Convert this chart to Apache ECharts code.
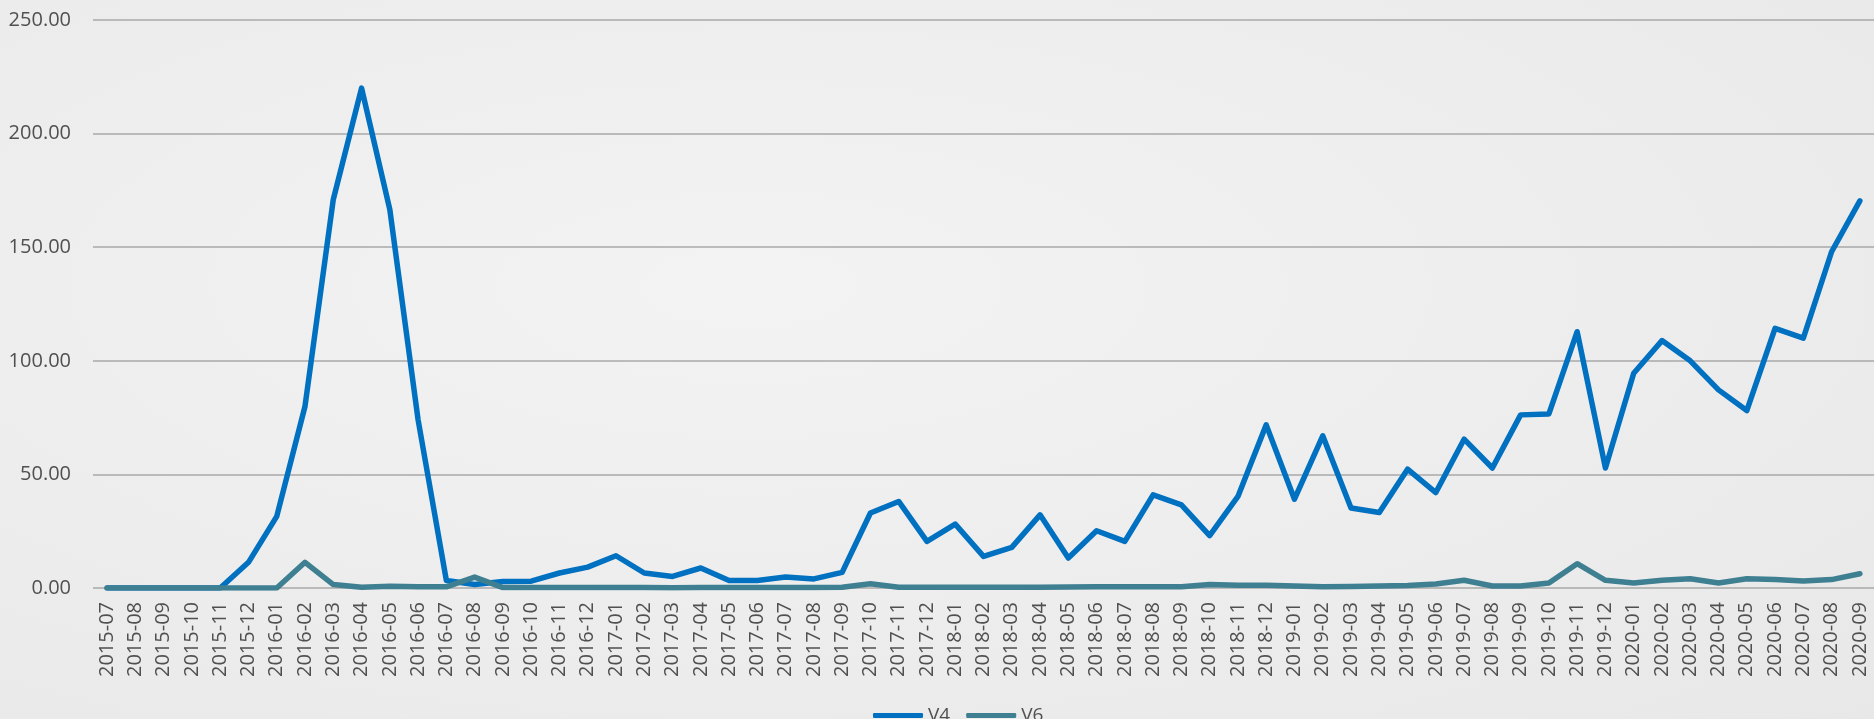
<!DOCTYPE html>
<html>
<head>
<meta charset="utf-8">
<script src="https://cdn.jsdelivr.net/npm/echarts@6/dist/echarts.min.js"></script>
<style>
html,body{margin:0;padding:0;width:1874px;height:719px;overflow:hidden;}
#chart{width:1874px;height:719px;
background:radial-gradient(ellipse at 40% 40%, #f3f3f3 0%, #eeeeee 45%, #e8e8e8 100%);}
</style>
</head>
<body>
<div id="chart"></div>
<script>
const months = [
'2015-07','2015-08','2015-09','2015-10','2015-11','2015-12',
'2016-01','2016-02','2016-03','2016-04','2016-05','2016-06','2016-07','2016-08','2016-09','2016-10','2016-11','2016-12',
'2017-01','2017-02','2017-03','2017-04','2017-05','2017-06','2017-07','2017-08','2017-09','2017-10','2017-11','2017-12',
'2018-01','2018-02','2018-03','2018-04','2018-05','2018-06','2018-07','2018-08','2018-09','2018-10','2018-11','2018-12',
'2019-01','2019-02','2019-03','2019-04','2019-05','2019-06','2019-07','2019-08','2019-09','2019-10','2019-11','2019-12',
'2020-01','2020-02','2020-03','2020-04','2020-05','2020-06','2020-07','2020-08','2020-09'
];
const v4 = [
0,0,0,0,0,11.3,
31.5,80,171,220,166.5,74,3.3,1.5,2.9,3,6.6,9.2,
14.2,6.6,5.1,8.8,3.3,3.3,4.8,4,6.9,33,38.1,20.5,
28.1,13.9,17.9,32.2,13.2,25.2,20.5,41,36.6,23.1,40.3,71.8,
39.1,67,35.2,33.2,52.3,42,65.5,52.8,76.2,76.6,112.8,52.8,
94.5,108.9,100,87.2,78.1,114.3,110,148,170.4
];
const v6 = [
0,0,0,0,0,0,
0,11.3,1.5,0.3,0.8,0.5,0.5,4.8,0.2,0.2,0.2,0.2,
0.2,0.2,0.1,0.2,0.2,0.2,0.2,0.2,0.3,1.9,0.3,0.3,
0.3,0.3,0.3,0.3,0.4,0.5,0.5,0.6,0.6,1.5,1.2,1.2,
0.9,0.5,0.7,0.9,1.1,1.8,3.4,0.9,0.9,2.2,10.7,3.4,
2.2,3.4,4.1,2.2,4.1,3.7,3.1,3.7,6.3
];
const yTicks = {min:0, max:250, interval:50};

const chart = echarts.init(document.getElementById('chart'), null, {renderer:'canvas'});
const font = '"Open Sans", "Liberation Sans", Arial, sans-serif';
chart.setOption({
  backgroundColor:'transparent',
  animation:false,
  textStyle:{fontFamily:font},
  grid:{left:93, top:20, width:1784, height:568, containLabel:false},
  legend:{
    data:['V4','V6'], left:868, top:701, itemWidth:50, itemHeight:5, itemGap:16,
    icon:'roundRect',
    textStyle:{fontSize:19, color:'#505050', fontFamily:font}
  },
  xAxis:{
    type:'category', data:months, boundaryGap:true,
    axisLine:{show:false}, axisTick:{show:false},
    axisLabel:{rotate:90, interval:0, fontSize:20, color:'#505050', margin:14, fontFamily:font}
  },
  yAxis:{
    type:'value', min:yTicks.min, max:yTicks.max, interval:yTicks.interval,
    axisLine:{show:false}, axisTick:{show:false},
    axisLabel:{fontSize:20, color:'#505050', margin:22, fontFamily:font,
      formatter:v=>v.toFixed(2)},
    splitLine:{lineStyle:{color:'#a8a8a8', width:1.5}}
  },
  series:[
    {name:'V4', type:'line', data:v4, symbol:'none', color:'#0070c0',
     lineStyle:{width:5.5, color:'#0070c0', cap:'round', join:'round'}},
    {name:'V6', type:'line', data:v6, symbol:'none', color:'#3f7f92',
     lineStyle:{width:5.5, color:'#3f7f92', cap:'round', join:'round'}}
  ]
});
</script>
</body>
</html>
